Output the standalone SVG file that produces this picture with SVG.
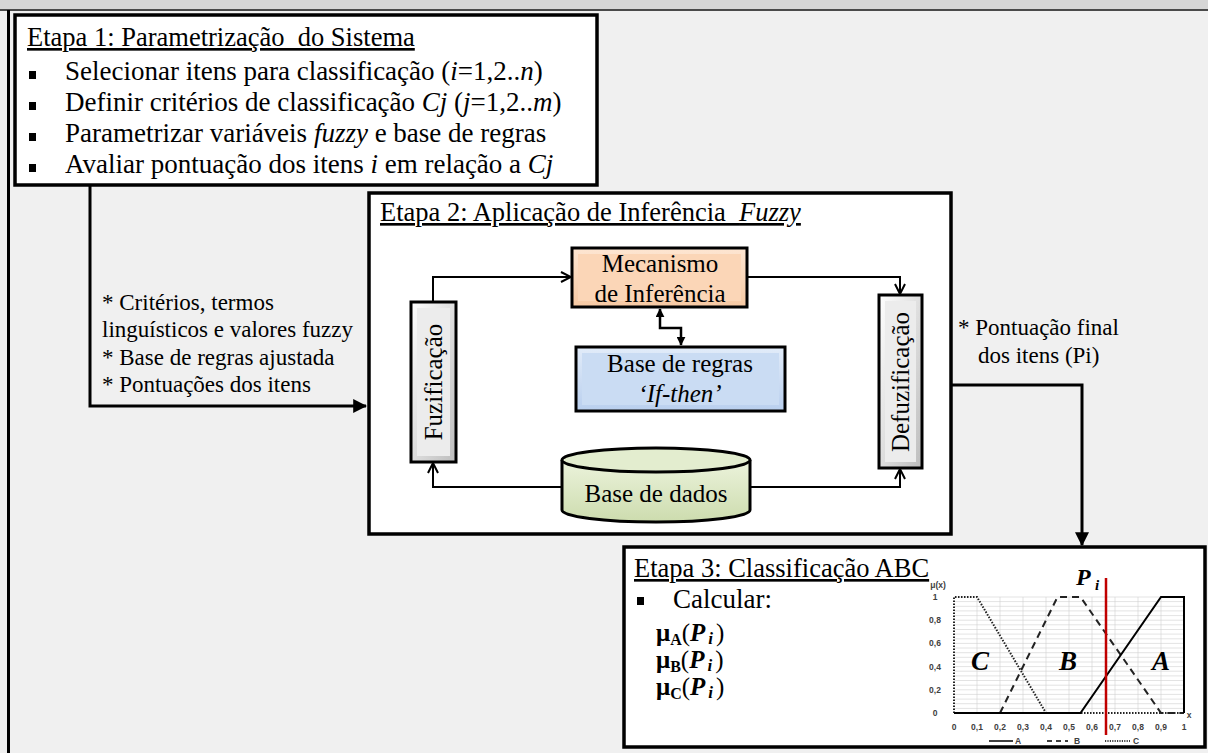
<svg xmlns="http://www.w3.org/2000/svg" width="1208" height="753" viewBox="0 0 1208 753">
<style>
text{font-family:"Liberation Serif","Times New Roman",serif;fill:#000}
.title{font-size:26.5px;text-decoration:underline;white-space:pre}
.bul{font-size:27px;white-space:pre}
.lbl{font-size:23px}
.node{font-size:25px}
.box{fill:#fff;stroke:#000;stroke-width:3.5}
.nb{stroke:#000;stroke-width:3}
.conn{fill:none;stroke:#000;stroke-width:2}
.thick{fill:none;stroke:#000;stroke-width:3}
.ax{font-family:"Liberation Sans",Arial,sans-serif;font-size:8.5px;font-weight:bold;fill:#404040}
.grid{stroke:#d0d0d0;stroke-width:0.6}
.big{font-size:27px;font-weight:bold;font-style:italic}
.mu{font-size:25px}
</style>
<defs>
<marker id="open" viewBox="0 0 12 12" refX="11" refY="6" markerWidth="12" markerHeight="12" markerUnits="userSpaceOnUse" orient="auto-start-reverse">
<path d="M1,1 L11,6 L1,11" fill="none" stroke="#000" stroke-width="2"/>
</marker>
<marker id="fill" viewBox="0 0 12 12" refX="11" refY="6" markerWidth="14" markerHeight="14" markerUnits="userSpaceOnUse" orient="auto-start-reverse">
<path d="M0,0 L12,6 L0,12 Z" fill="#000"/>
</marker>
<marker id="fillsm" viewBox="0 0 12 12" refX="11" refY="6" markerWidth="9" markerHeight="9" markerUnits="userSpaceOnUse" orient="auto-start-reverse">
<path d="M0,0 L12,6 L0,12 Z" fill="#000"/>
</marker>
<linearGradient id="peach" x1="0" y1="0" x2="0" y2="1"><stop offset="0" stop-color="#fde6d2"/><stop offset="1" stop-color="#f7c9a3"/></linearGradient>
<linearGradient id="blue" x1="0" y1="0" x2="0" y2="1"><stop offset="0" stop-color="#e2ecf9"/><stop offset="1" stop-color="#b9cfee"/></linearGradient>
<linearGradient id="gray" x1="0" y1="0" x2="1" y2="1"><stop offset="0" stop-color="#ffffff"/><stop offset="1" stop-color="#bdbdbd"/></linearGradient>
<linearGradient id="green" x1="0" y1="0" x2="0" y2="1"><stop offset="0" stop-color="#ecf3dc"/><stop offset="1" stop-color="#cddcae"/></linearGradient>
</defs>

<!-- background / window frame -->
<rect x="0" y="0" width="1208" height="753" fill="#f0f0f0"/>
<rect x="0" y="0" width="1208" height="9" fill="#d6d6d6"/>
<line x1="0" y1="10" x2="1208" y2="10" stroke="#4a4a4a" stroke-width="2"/>
<line x1="8.5" y1="10" x2="8.5" y2="753" stroke="#000" stroke-width="3"/>

<!-- connectors between stages -->
<g id="connectors">
<polyline class="thick" points="90,186 90,406 366,406" marker-end="url(#fill)"/>
<polyline class="thick" points="951,385 1082,385 1082,545" marker-end="url(#fill)"/>
<text class="lbl" x="102" y="310">* Critérios, termos</text>
<text class="lbl" x="102" y="337">linguísticos e valores fuzzy</text>
<text class="lbl" x="102" y="365">* Base de regras ajustada</text>
<text class="lbl" x="102" y="392">* Pontuações dos itens</text>
<text class="lbl" x="958" y="335">* Pontuação final</text>
<text class="lbl" x="978" y="363">dos itens (Pi)</text>
</g>

<!-- Etapa 1 -->
<g id="etapa1">
<rect class="box" x="15" y="15" width="582" height="170"/>
<text class="title" x="27" y="46">Etapa 1: Parametrização  do Sistema</text>
<rect x="29" y="71" width="7" height="8"/>
<rect x="29" y="102" width="7" height="8"/>
<rect x="29" y="133" width="7" height="8"/>
<rect x="29" y="164" width="7" height="8"/>
<text class="bul" x="65" y="80">Selecionar itens para classificação (<tspan font-style="italic">i</tspan>=1,2..<tspan font-style="italic">n</tspan>)</text>
<text class="bul" x="65" y="111">Definir critérios de classificação <tspan font-style="italic">Cj</tspan> (<tspan font-style="italic">j</tspan>=1,2..<tspan font-style="italic">m</tspan>)</text>
<text class="bul" x="65" y="142">Parametrizar variáveis <tspan font-style="italic">fuzzy</tspan> e base de regras</text>
<text class="bul" x="65" y="173">Avaliar pontuação dos itens <tspan font-style="italic">i</tspan> em relação a <tspan font-style="italic">Cj</tspan></text>
</g>

<!-- Etapa 2 -->
<g id="etapa2">
<rect class="box" x="369" y="193" width="582" height="341"/>
<text class="title" x="380" y="221">Etapa 2: Aplicação de Inferência  <tspan font-style="italic">Fuzzy</tspan></text>
</g>

<g id="etapa2-connectors">
<polyline class="conn" points="433,302 433,277 571,277" marker-end="url(#open)"/>
<polyline class="conn" points="747,277 900,277 900,294" marker-end="url(#open)"/>
<polyline class="conn" points="562,487 433,487 433,463" marker-end="url(#open)"/>
<polyline class="conn" points="750,487 900,487 900,469" marker-end="url(#open)"/>
<polyline fill="none" stroke="#000" stroke-width="2.5" points="660,309 660,328 681,328 681,345" marker-start="url(#fillsm)" marker-end="url(#fillsm)"/>
</g>

<g id="mecanismo">
<rect class="nb" x="572" y="248" width="175" height="59" fill="url(#peach)"/>
<rect x="578" y="254" width="163" height="47" fill="#fbd6b7"/>
<text class="node" x="660" y="272" text-anchor="middle">Mecanismo</text>
<text class="node" x="660" y="302" text-anchor="middle">de Inferência</text>
</g>

<g id="base-regras">
<rect class="nb" x="576" y="347" width="209" height="64" fill="url(#blue)"/>
<rect x="582" y="353" width="197" height="52" fill="#cadcf3"/>
<text class="node" x="680" y="372" text-anchor="middle">Base de regras</text>
<text class="node" x="680" y="402" text-anchor="middle" font-style="italic">‘If-then’</text>
</g>

<g id="fuzificacao">
<rect class="nb" x="411" y="302" width="45" height="160" fill="url(#gray)"/>
<rect x="417" y="308" width="33" height="148" fill="#ececec"/>
<text class="node" transform="translate(442,382) rotate(-90)" text-anchor="middle">Fuzificação</text>
</g>

<g id="defuzificacao">
<rect class="nb" x="879" y="295" width="43" height="173" fill="url(#gray)"/>
<rect x="885" y="301" width="31" height="161" fill="#ececec"/>
<text class="node" transform="translate(909,382) rotate(-90)" text-anchor="middle">Defuzificação</text>
</g>

<g id="base-dados">
<path class="nb" d="M562,460 L562,510 A94,12 0 0 0 750,510 L750,460" fill="url(#green)"/>
<ellipse class="nb" cx="656" cy="460" rx="94" ry="12" fill="#e3edcf"/>
<text class="node" x="656" y="502" text-anchor="middle">Base de dados</text>
</g>

<!-- Etapa 3 -->
<g id="etapa3">
<rect class="box" x="624" y="547" width="581" height="200"/>
<text class="title" x="634" y="577">Etapa 3: Classificação ABC</text>
<rect x="637" y="597" width="7" height="8"/>
<text class="bul" x="673" y="608">Calcular:</text>
<text class="mu" x="656" y="641"><tspan font-weight="bold">μ</tspan><tspan font-weight="bold" font-size="16px" dy="4">A</tspan><tspan dy="-4">(</tspan><tspan font-weight="bold" font-style="italic">P</tspan><tspan font-weight="bold" font-style="italic" font-size="17px" dy="3" dx="3">i</tspan><tspan dy="-3" dx="3">)</tspan></text>
<text class="mu" x="656" y="668"><tspan font-weight="bold">μ</tspan><tspan font-weight="bold" font-size="16px" dy="4">B</tspan><tspan dy="-4">(</tspan><tspan font-weight="bold" font-style="italic">P</tspan><tspan font-weight="bold" font-style="italic" font-size="17px" dy="3" dx="3">i</tspan><tspan dy="-3" dx="3">)</tspan></text>
<text class="mu" x="656" y="695"><tspan font-weight="bold">μ</tspan><tspan font-weight="bold" font-size="16px" dy="4">C</tspan><tspan dy="-4">(</tspan><tspan font-weight="bold" font-style="italic">P</tspan><tspan font-weight="bold" font-style="italic" font-size="17px" dy="3" dx="3">i</tspan><tspan dy="-3" dx="3">)</tspan></text>
</g>

<!-- membership chart -->
<g id="chart">
<g class="grid">
<line x1="954" y1="597" x2="1184" y2="597"/><line x1="954" y1="601.6" x2="1184" y2="601.6"/><line x1="954" y1="606.3" x2="1184" y2="606.3"/><line x1="954" y1="610.9" x2="1184" y2="610.9"/><line x1="954" y1="615.6" x2="1184" y2="615.6"/><line x1="954" y1="620.2" x2="1184" y2="620.2"/><line x1="954" y1="624.8" x2="1184" y2="624.8"/><line x1="954" y1="629.5" x2="1184" y2="629.5"/><line x1="954" y1="634.1" x2="1184" y2="634.1"/><line x1="954" y1="638.8" x2="1184" y2="638.8"/><line x1="954" y1="643.4" x2="1184" y2="643.4"/><line x1="954" y1="648" x2="1184" y2="648"/><line x1="954" y1="652.7" x2="1184" y2="652.7"/><line x1="954" y1="657.3" x2="1184" y2="657.3"/><line x1="954" y1="662" x2="1184" y2="662"/><line x1="954" y1="666.6" x2="1184" y2="666.6"/><line x1="954" y1="671.2" x2="1184" y2="671.2"/><line x1="954" y1="675.9" x2="1184" y2="675.9"/><line x1="954" y1="680.5" x2="1184" y2="680.5"/><line x1="954" y1="685.2" x2="1184" y2="685.2"/><line x1="954" y1="689.8" x2="1184" y2="689.8"/><line x1="954" y1="694.4" x2="1184" y2="694.4"/><line x1="954" y1="699.1" x2="1184" y2="699.1"/><line x1="954" y1="703.7" x2="1184" y2="703.7"/><line x1="954" y1="708.4" x2="1184" y2="708.4"/>
<line x1="977" y1="597" x2="977" y2="713"/><line x1="1000" y1="597" x2="1000" y2="713"/><line x1="1023" y1="597" x2="1023" y2="713"/><line x1="1046" y1="597" x2="1046" y2="713"/><line x1="1069" y1="597" x2="1069" y2="713"/><line x1="1092" y1="597" x2="1092" y2="713"/><line x1="1115" y1="597" x2="1115" y2="713"/><line x1="1138" y1="597" x2="1138" y2="713"/><line x1="1161" y1="597" x2="1161" y2="713"/>
</g>
<polyline fill="none" stroke="#222" stroke-width="2" stroke-dasharray="1.5 1.5" points="954,713 954,597 977,597 1046,713 1184,713"/>
<polyline fill="none" stroke="#222" stroke-width="2" stroke-dasharray="7 5" points="1000,713 1057.5,597 1080.5,597 1161,713 1184,713"/>
<polyline fill="none" stroke="#000" stroke-width="2" points="954,713 1080.5,713 1161,597 1184,597 1184,713"/>
<line x1="1106" y1="578" x2="1106" y2="735" stroke="#c00000" stroke-width="2.5"/>
<text x="1076" y="585" font-size="24px" font-weight="bold" font-style="italic">P</text>
<text x="1095" y="590" font-size="15px" font-weight="bold" font-style="italic">i</text>
<text class="big" x="971" y="670">C</text>
<text class="big" x="1059" y="670">B</text>
<text class="big" x="1152" y="670">A</text>
<text class="ax" x="938" y="588" text-anchor="middle">μ(x)</text>
<text class="ax" x="1189" y="718" text-anchor="middle">x</text>
<g class="ax" text-anchor="middle">
<text class="ax" x="935" y="600">1</text>
<text class="ax" x="935" y="623">0,8</text>
<text class="ax" x="935" y="646">0,6</text>
<text class="ax" x="935" y="670">0,4</text>
<text class="ax" x="935" y="693">0,2</text>
<text class="ax" x="935" y="716">0</text>
<text class="ax" x="954" y="730">0</text>
<text class="ax" x="977" y="730">0,1</text>
<text class="ax" x="1000" y="730">0,2</text>
<text class="ax" x="1023" y="730">0,3</text>
<text class="ax" x="1046" y="730">0,4</text>
<text class="ax" x="1069" y="730">0,5</text>
<text class="ax" x="1092" y="730">0,6</text>
<text class="ax" x="1115" y="730">0,7</text>
<text class="ax" x="1138" y="730">0,8</text>
<text class="ax" x="1161" y="730">0,9</text>
<text class="ax" x="1184" y="730">1</text>
</g>
<line x1="989" y1="741" x2="1013" y2="741" stroke="#000" stroke-width="1.5"/>
<text class="ax" x="1015" y="744">A</text>
<line x1="1047" y1="741" x2="1068" y2="741" stroke="#000" stroke-width="1.5" stroke-dasharray="5 4"/>
<text class="ax" x="1074" y="744">B</text>
<line x1="1105" y1="741" x2="1130" y2="741" stroke="#000" stroke-width="1.5" stroke-dasharray="1.2 1.2"/>
<text class="ax" x="1133" y="744">C</text>
</g>
</svg>
